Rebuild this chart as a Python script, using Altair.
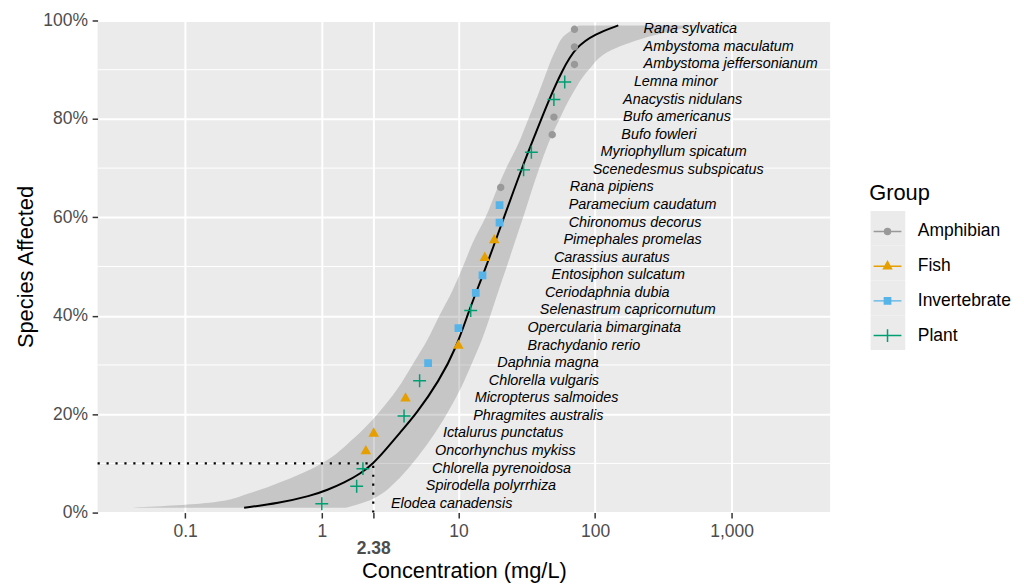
import altair as alt
import pandas as pd

# ---- data ----
species = [
    "Elodea canadensis", "Spirodella polyrrhiza", "Chlorella pyrenoidosa", "Oncorhynchus mykiss",
    "Ictalurus punctatus", "Phragmites australis", "Micropterus salmoides", "Chlorella vulgaris",
    "Daphnia magna", "Brachydanio rerio", "Opercularia bimarginata", "Selenastrum capricornutum",
    "Ceriodaphnia dubia", "Entosiphon sulcatum", "Carassius auratus", "Pimephales promelas",
    "Chironomus decorus", "Paramecium caudatum", "Rana pipiens", "Scenedesmus subspicatus",
    "Myriophyllum spicatum", "Bufo fowleri", "Bufo americanus", "Anacystis nidulans",
    "Lemna minor", "Ambystoma jeffersonianum", "Ambystoma maculatum", "Rana sylvatica",
]
groups = [
    "Plant", "Plant", "Plant", "Fish",
    "Fish", "Plant", "Fish", "Plant",
    "Invertebrate", "Fish", "Invertebrate", "Plant",
    "Invertebrate", "Invertebrate", "Fish", "Fish",
    "Invertebrate", "Invertebrate", "Amphibian", "Plant",
    "Plant", "Amphibian", "Amphibian", "Plant",
    "Plant", "Amphibian", "Amphibian", "Amphibian",
]
conc = [
    1.0, 1.8, 2.0, 2.1,
    2.4, 4.0, 4.1, 5.2,
    6.0, 10.0, 10.0, 12.3,
    13.4, 15.0, 15.6, 18.3,
    20.0, 20.0, 20.4, 30.0,
    34.2, 48.6, 50.0, 50.0,
    60.0, 70.7, 70.7, 70.7,
]

group_names = ["Amphibian", "Fish", "Invertebrate", "Plant"]
group_colors = ["#999999", "#E69F00", "#56B4E9", "#009E73"]

curve_pct = [0.010, 0.019, 0.034, 0.046, 0.061, 0.079, 0.100, 0.123, 0.163, 0.200, 0.267,
             0.335, 0.415, 0.482, 0.556, 0.630, 0.704, 0.771, 0.839, 0.899, 0.946, 0.973, 0.990]
curve_conc = [0.27, 0.48, 0.83, 1.10, 1.46, 1.92, 2.38, 2.84, 3.75, 4.9, 7.2,
              9.67, 12.1, 15.1, 18.9, 23.6, 29.5, 36.8, 46.0, 57.6, 72.0, 100.5, 148.0]

band_pct = [0.01, 0.02, 0.04, 0.06, 0.10, 0.15, 0.20, 0.25, 0.30, 0.35, 0.40, 0.45,
            0.50, 0.55, 0.60, 0.65, 0.70, 0.75, 0.80, 0.85, 0.90, 0.94, 0.97, 0.99]
band_lo = [0.041, 0.15, 0.30, 0.48, 1.0, 1.7, 2.55, 3.55, 4.6, 5.9, 7.25, 9.0,
           10.8, 12.8, 15.8, 18.7, 22.4, 27.5, 32.5, 38.4, 44.8, 51.5, 60.0, 76.0]
band_hi = [1.5, 2.0, 2.8, 3.4, 4.6, 6.3, 8.2, 10.3, 12.4, 14.8, 17.1, 19.6,
           22.6, 25.9, 29.8, 34.0, 39.1, 45.5, 55.0, 68.0, 90.0, 132.0, 270.0, 540.0]

hc_value = 2.38
hc_pct = 0.10
x_domain = [0.02285, 5262]
x_ticks = [0.1, 1, 2.38, 10, 100, 1000]
y_ticks = [0.0, 0.2, 0.4, 0.6, 0.8, 1.0]
minor_y = [0.1, 0.3, 0.5, 0.7, 0.9]

# ---- tables ----
pts = pd.DataFrame({"Species": species, "Group": groups, "Conc": conc})
curve_df = pd.DataFrame({"pct": curve_pct, "conc": curve_conc})
band_df = pd.DataFrame({"pct": band_pct, "lo": band_lo, "hi": band_hi})
hc_df = pd.DataFrame({"x0": [x_domain[0]], "hc": [hc_value], "y0": [0.0], "p": [hc_pct]})
minor_df = pd.DataFrame({"y": minor_y})

FONT = "Liberation Sans"
xscale = alt.Scale(type="log", domain=x_domain, nice=False)
yscale = alt.Scale(domain=[0, 1], nice=False, zero=False)

xaxis = alt.Axis(
    values=x_ticks,
    labelExpr="datum.value == 2.38 ? ['', '2.38'] : datum.value == 1000 ? '1,000' : datum.value == 0.1 ? '0.1' : format(datum.value, ',')",
    labelFontWeight={"condition": {"test": "datum.value == 2.38", "value": "bold"}, "value": "normal"},
    labelFontSize=17.6, labelColor="#4D4D4D", labelPadding=4.4, labelLineHeight=17.7,
    labelOverlap=False, labelFlush=False,
    tickColor="#333333", tickSize=5.5, tickWidth=1.5,
    domain=False, grid=True, gridColor="white", gridWidth=2,
    title="Concentration (mg/L)", titleFontSize=22, titleFontWeight="normal", titleColor="black",
    titleBaseline="alphabetic", titleY=65.7, titleX=369.2, titleAlign="center",
)
yaxis = alt.Axis(
    values=y_ticks, format=".0%",
    labelFontSize=17.6, labelColor="#4D4D4D", labelPadding=4.7,
    tickColor="#333333", tickSize=5.5, tickWidth=1.5,
    domain=False, grid=True, gridColor="white", gridWidth=2,
    title="Species Affected", titleFontSize=22, titleFontWeight="normal", titleColor="black",
    titleAngle=270, titleBaseline="alphabetic", titleX=-65.8, titleY=248, titleAlign="center",
)

# custom symbol paths (plot markers, and legend keys = line + marker)
pt_paths = [
    "M-0.46,0A0.46,0.46 0 1,0 0.46,0A0.46,0.46 0 1,0 -0.46,0Z",
    "M-0.62,0.38L0.62,0.38L0,-0.72Z",
    "M-0.485,-0.485H0.485V0.485H-0.485Z",
    "M-1,0H1M0,-1V1",
]
leg_paths = [
    "M-1,0H1M-0.214,0A0.214,0.214 0 1,0 0.214,0A0.214,0.214 0 1,0 -0.214,0Z",
    "M-1,0H1M-0.286,0.179L0.286,0.179L0,-0.336Z",
    "M-1,0H1M-0.225,-0.225H0.225V0.225H-0.225Z",
    "M-1,0H1M0,-0.464V0.464",
]

legend = alt.Legend(
    title="Group", orient="none", legendX=777.7, legendY=163.5,
    titleFontSize=22, titleFontWeight="normal", titleColor="black", titleFont=FONT,
    titlePadding=12.1,
    labelFontSize=17.6, labelColor="black", labelFont=FONT, labelOffset=15.5,
    symbolSize=784, symbolStrokeWidth=1.5, symbolOffset=3.5, rowPadding=11,
    symbolOpacity=1, zindex=2,
)
# grey key backgrounds drawn by a second legend (no visible text) placed underneath
key_legend = alt.Legend(
    title="Group", orient="none", legendX=777.7, legendY=163.5,
    titleFontSize=22, titleFontWeight="normal", titleFont=FONT, titleOpacity=0,
    titlePadding=6.5,
    labelFontSize=17.6, labelFont=FONT, labelOpacity=0, labelExpr="''", labelOffset=15.5,
    symbolType="square", symbolSize=1225, symbolOffset=1.4, rowPadding=0,
    symbolStrokeWidth=0, symbolOpacity=1, zindex=1,
)

minor = alt.Chart(minor_df).mark_rule(color="white", strokeWidth=1).encode(
    y=alt.Y("y:Q", scale=yscale, axis=yaxis)
)

band = alt.Chart(band_df).mark_area(
    orient="horizontal", color="#333333", opacity=0.2, interpolate="monotone"
).encode(
    y=alt.Y("pct:Q", scale=yscale),
    x=alt.X("lo:Q", scale=xscale, axis=xaxis),
    x2="hi:Q",
)

hline = alt.Chart(hc_df).mark_rule(color="black", strokeWidth=2.2, strokeDash=[2.2, 6.8]).encode(
    x=alt.X("x0:Q", scale=xscale), x2="hc:Q", y=alt.Y("p:Q", scale=yscale)
)
vline = alt.Chart(hc_df).mark_rule(color="black", strokeWidth=2.2, strokeDash=[2.2, 6.8]).encode(
    x=alt.X("hc:Q", scale=xscale), y=alt.Y("y0:Q", scale=yscale), y2="p:Q"
)

curve = alt.Chart(curve_df).mark_line(color="black", strokeWidth=2, interpolate="basis").encode(
    x=alt.X("conc:Q", scale=xscale), y=alt.Y("pct:Q", scale=yscale), order="pct:Q"
)

base = alt.Chart(pts).transform_window(
    rank="row_number()"
).transform_joinaggregate(
    n="count()"
).transform_calculate(
    pct="(datum.rank - 0.5) / datum.n", lx="datum.Conc * 3"
)

points = base.mark_point(filled=True, size=169, strokeWidth=1.5, opacity=1).encode(
    x=alt.X("Conc:Q", scale=xscale),
    y=alt.Y("pct:Q", scale=yscale),
    color=alt.Color("Group:N", scale=alt.Scale(domain=group_names, range=group_colors), legend=None),
    stroke=alt.Stroke("Group:N", scale=alt.Scale(domain=group_names, range=group_colors), legend=None),
    shape=alt.Shape("Group:N", scale=alt.Scale(domain=group_names, range=pt_paths), legend=None),
)

# legend-only layers (no rows pass the filter)
legend_layer = base.transform_filter("false").mark_point(
    filled=True, size=784, strokeWidth=1.5, opacity=1
).encode(
    x=alt.X("Conc:Q", scale=xscale),
    y=alt.Y("pct:Q", scale=yscale),
    color=alt.Color("Group:N", scale=alt.Scale(domain=group_names, range=group_colors), legend=legend),
    stroke=alt.Stroke("Group:N", scale=alt.Scale(domain=group_names, range=group_colors), legend=legend),
    shape=alt.Shape("Group:N", scale=alt.Scale(domain=group_names, range=leg_paths), legend=legend),
)
key_names = [g + " key" for g in group_names]
key_layer = base.transform_filter("false").transform_calculate(
    Key="datum.Group + ' key'"
).mark_point(filled=True, shape="square", size=1225, opacity=1).encode(
    x=alt.X("Conc:Q", scale=xscale),
    y=alt.Y("pct:Q", scale=yscale),
    color=alt.Color("Key:N", scale=alt.Scale(domain=key_names, range=["#EBEBEB"] * 4), legend=key_legend),
)

labels = base.mark_text(align="left", baseline="middle", fontStyle="italic", fontSize=14.5,
                        font=FONT, color="black", dx=4).encode(
    x=alt.X("lx:Q", scale=xscale),
    y=alt.Y("pct:Q", scale=yscale),
    text="Species:N",
)

chart = alt.layer(minor, band, hline, vline, curve, points, labels, key_layer, legend_layer).resolve_scale(
    color="independent", stroke="independent", shape="independent"
).properties(
    width=738.4, height=496,
    padding={"left": 90.3, "top": 10.3, "right": 187.3, "bottom": 71.7},
    autosize=alt.AutoSizeParams(type="none"),
).configure(
    font=FONT
).configure_view(
    fill="#EBEBEB", stroke=None
)

chart.save("out.html", embed_options={"renderer": "svg", "actions": False})
